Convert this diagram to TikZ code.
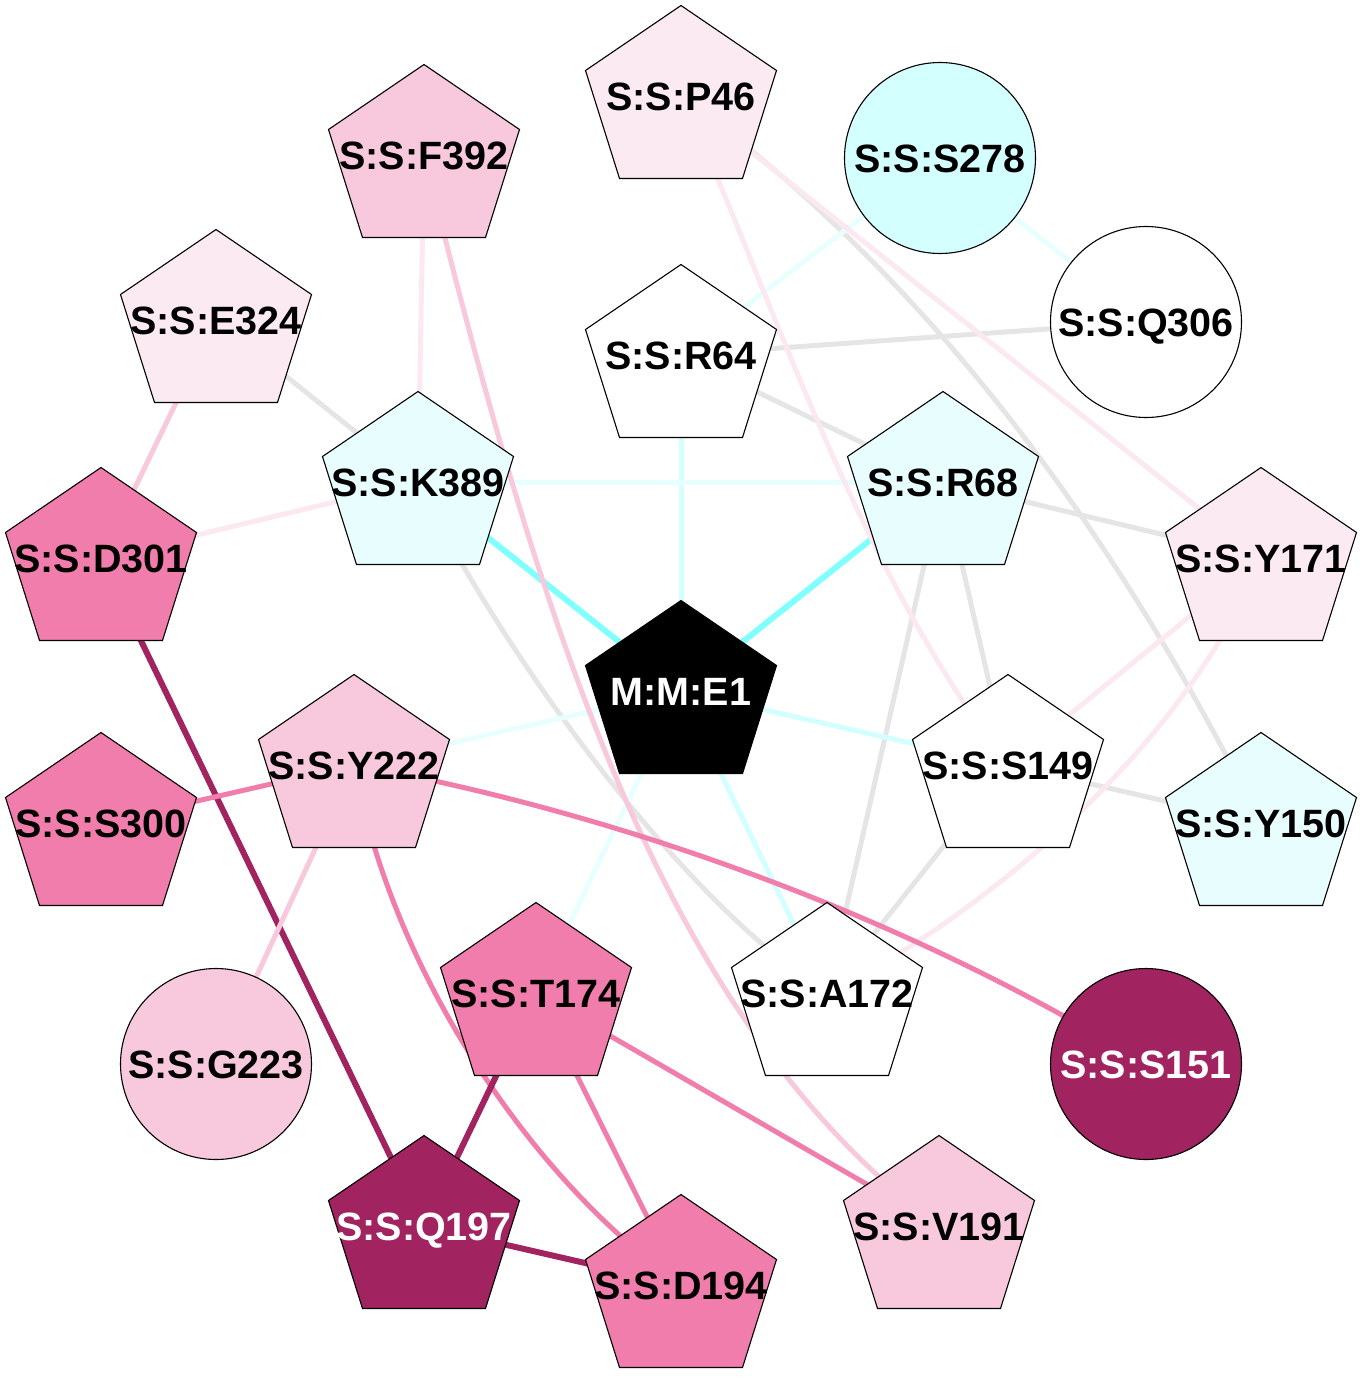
\documentclass[tikz,border=0pt]{standalone}
\usepackage{fontspec}
\setmainfont{Liberation Sans}
\pgfdeclarelayer{edgelayer}
\pgfdeclarelayer{shapelayer}
\pgfsetlayers{edgelayer,shapelayer,main}
\definecolor{egrey}{HTML}{E5E5E5}
\definecolor{cyS}{HTML}{80FFFF}
\definecolor{cyM}{HTML}{D2FFFF}
\definecolor{cyL}{HTML}{E8FFFF}
\definecolor{pkL}{HTML}{FBE8F1}
\definecolor{pkM}{HTML}{F8C8DC}
\definecolor{pkP}{HTML}{F07DAB}
\definecolor{pkD}{HTML}{A12360}
\definecolor{nLP}{HTML}{FBEAF2}
\definecolor{nMP}{HTML}{F8C8DD}
\definecolor{nP}{HTML}{F07DAB}
\definecolor{nD}{HTML}{A12360}
\definecolor{nCL}{HTML}{E8FEFE}
\definecolor{nCM}{HTML}{D4FFFF}
\newcommand\pentat[2]{%
  \begin{pgfonlayer}{shapelayer}
  \filldraw[fill=#2,draw=black,line width=1.1pt,shift={(#1.center)}]
    (0,-90.5) -- (95.5,-25.5) -- (61.5,82.5) -- (-61.5,82.5) -- (-95.5,-25.5) -- cycle;
  \end{pgfonlayer}}
\tikzset{
  lbl/.style={inner sep=0pt, font=\bfseries\fontsize{39.5}{40}\selectfont, text height=28.3pt, text depth=0pt},
  circnode/.style={lbl, circle, draw=black, line width=1.1pt, minimum size=191pt},
  eg/.style={line width=5pt, color=egrey},
  ecs/.style={line width=6pt, color=cyS},
  ecm/.style={line width=5pt, color=cyM},
  ecl/.style={line width=5pt, color=cyL},
  epl/.style={line width=5pt, color=pkL},
  epm/.style={line width=5pt, color=pkM},
  epp/.style={line width=5pt, color=pkP},
  epd/.style={line width=6pt, color=pkD},
}
\begin{document}
\begin{tikzpicture}[x=1pt,y=-1pt]
\useasboundingbox (0,0) rectangle (1362,1392);
% pentagon nodes (labels)
\node[lbl] (P46)  at (681,96)   {S:S:P46};
\node[lbl] (F392) at (424,155)  {S:S:F392};
\node[lbl] (E324) at (216,320)  {S:S:E324};
\node[lbl] (R64)  at (681,355)  {S:S:R64};
\node[lbl] (K389) at (418,482)  {S:S:K389};
\node[lbl] (R68)  at (943,482)  {S:S:R68};
\node[lbl] (D301) at (101,558)  {S:S:D301};
\node[lbl] (Y171) at (1261,558) {S:S:Y171};
\node[lbl,text=white] (E1) at (681,691) {M:M:E1};
\node[lbl] (Y222) at (354,765)  {S:S:Y222};
\node[lbl] (S149) at (1008,765) {S:S:S149};
\node[lbl] (S300) at (101,823)  {S:S:S300};
\node[lbl] (Y150) at (1261,823) {S:S:Y150};
\node[lbl] (T174) at (536,993)  {S:S:T174};
\node[lbl] (A172) at (827,993)  {S:S:A172};
\node[lbl,text=white] (Q197) at (424,1226) {S:S:Q197};
\node[lbl] (V191) at (939,1226) {S:S:V191};
\node[lbl] (D194) at (681,1285) {S:S:D194};
% circle nodes
\node[circnode,fill=nCM] (S278) at (940,158) {S:S:S278};
\node[circnode,fill=white] (Q306) at (1146,322) {S:S:Q306};
\node[circnode,fill=nMP] (G223) at (216,1064) {S:S:G223};
\node[circnode,fill=nD,text=white] (S151) at (1146,1064) {S:S:S151};
% pentagon shapes
\pentat{P46}{nLP}
\pentat{F392}{nMP}
\pentat{E324}{nLP}
\pentat{R64}{white}
\pentat{K389}{nCL}
\pentat{R68}{nCL}
\pentat{D301}{nP}
\pentat{Y171}{nLP}
\pentat{E1}{black}
\pentat{Y222}{nMP}
\pentat{S149}{white}
\pentat{S300}{nP}
\pentat{Y150}{nCL}
\pentat{T174}{nP}
\pentat{A172}{white}
\pentat{Q197}{nD}
\pentat{V191}{nMP}
\pentat{D194}{nP}
% edges
\begin{pgfonlayer}{edgelayer}
% grey
\draw[eg] (E324.center) -- (K389.center);
\draw[eg] (K389.center) .. controls (500,650) and (680,900) .. (A172.center);
\draw[eg] (R64.center) -- (Q306.center);
\draw[eg] (R64.center) -- (R68.center);
\draw[eg] (P46.center) .. controls (920,270) and (1110,520) .. (Y150.center);
\draw[eg] (R68.center) -- (Y171.center);
\draw[eg] (R68.center) -- (A172.center);
\draw[eg] (R68.center) -- (S149.center);
\draw[eg] (S149.center) -- (Y150.center);
\draw[eg] (S149.center) -- (A172.center);
% cyan
\draw[ecs] (K389.center) -- (E1.center);
\draw[ecs] (R68.center) -- (E1.center);
\draw[ecm] (R64.center) -- (E1.center);
\draw[ecl] (K389.center) -- (R68.center);
\draw[ecl] (S278.center) -- (R64.center);
\draw[ecl] (S278.center) -- (Q306.center);
\draw[ecm] (E1.center) -- (S149.center);
\draw[ecm] (E1.center) -- (A172.center);
\draw[ecl] (E1.center) -- (Y222.center);
\draw[ecl] (E1.center) -- (T174.center);
% pink
\draw[epl] (F392.center) -- (K389.center);
\draw[epm] (F392.center) .. controls (540,620) and (660,1020) .. (V191.center);
\draw[epm] (E324.center) -- (D301.center);
\draw[epl] (D301.center) -- (K389.center);
\draw[epd] (D301.center) -- (Q197.center);
\draw[epl] (P46.center) .. controls (760,260) and (850,560) .. (S149.center);
\draw[epl] (P46.center) -- (Y171.center);
\draw[epl] (Y171.center) -- (S149.center);
\draw[epl] (Y171.center) .. controls (1180,760) and (960,930) .. (A172.center);
\draw[epp] (Y222.center) -- (S300.center);
\draw[epp] (Y222.center) .. controls (580,805) and (880,900) .. (S151.center);
\draw[epm] (Y222.center) -- (G223.center);
\draw[epp] (Y222.center) .. controls (390,960) and (520,1170) .. (D194.center);
\draw[epd] (T174.center) -- (Q197.center);
\draw[epp] (T174.center) -- (D194.center);
\draw[epp] (T174.center) -- (V191.center);
\draw[epd] (Q197.center) -- (D194.center);
\end{pgfonlayer}
\end{tikzpicture}
\end{document}
